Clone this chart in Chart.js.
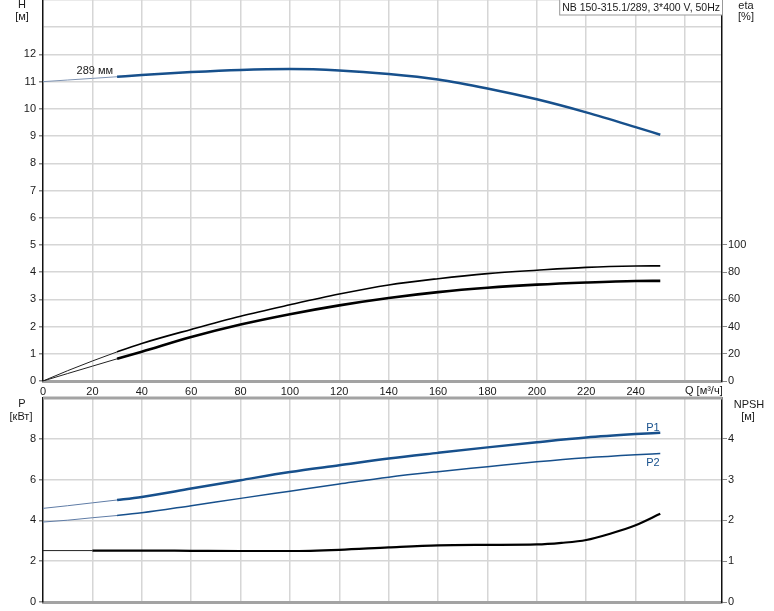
<!DOCTYPE html>
<html>
<head>
<meta charset="utf-8">
<script src="https://cdn.jsdelivr.net/npm/chart.js@4.4.1/dist/chart.umd.min.js"></script>
<style>
  body { margin: 0; background: #fff; }
  canvas { position: absolute; left: 0; }
  #top { top: 0; }
  #bottom { top: 392px; }
</style>
</head>
<body>
<canvas id="top" width="774" height="398"></canvas>
<canvas id="bottom" width="774" height="219"></canvas>
<script>
// ticks
let qTicks = [0, 20, 40, 60, 80, 100, 120, 140, 160, 180, 200, 220, 240, 260];
let hTicks = [0, 1, 2, 3, 4, 5, 6, 7, 8, 9, 10, 11, 12, 13, 14];
let etaTicks = [0, 20, 40, 60, 80, 100];
let pTicks = [0, 2, 4, 6, 8, 10];
let npshTicks = [0, 1, 2, 3, 4];

// curves (Q in m3/h)
let qPts = [0, 10, 20, 30, 40, 60, 80, 100, 120, 140, 160, 180, 200, 220, 240, 250];
let head = [11.0, 11.06, 11.12, 11.18, 11.24, 11.35, 11.43, 11.46, 11.41, 11.28, 11.08, 10.75, 10.35, 9.87, 9.33, 9.05];
let etaHigh = [0, 7.6, 14.7, 21.4, 27.6, 37.9, 47.6, 56.0, 63.9, 70.6, 75.2, 78.9, 81.4, 83.5, 84.5, 84.6];
let etaLow = [0, 5.5, 10.9, 16.3, 21.5, 32.3, 41.5, 49.1, 55.6, 61.0, 65.3, 68.5, 70.8, 72.4, 73.5, 73.6];
let p1 = [4.59, 4.72, 4.86, 5.0, 5.15, 5.56, 5.97, 6.37, 6.70, 7.03, 7.31, 7.58, 7.83, 8.06, 8.23, 8.30];
let p2 = [3.92, 4.01, 4.13, 4.24, 4.37, 4.72, 5.08, 5.43, 5.78, 6.12, 6.39, 6.63, 6.87, 7.07, 7.22, 7.28];
let npshQ = [0, 20, 40, 60, 80, 100, 120, 140, 160, 180, 200, 210, 220, 230, 240, 250];
let npsh = [1.26, 1.26, 1.26, 1.255, 1.25, 1.25, 1.28, 1.34, 1.39, 1.40, 1.41, 1.45, 1.52, 1.68, 1.88, 2.16];

const BLUE = '#17508c';
const FONT = { family: 'Liberation Sans, Arial', size: 11 };
const TXT = '#1a1a1a';
const GRID = '#d6d6d6';

function pts(xs, ys) {
    return xs.map((x, i) => ({ x: x, y: ys[i] }));
}

function curve(data, axis, color, width, thinColor) {
    return {
        data: data,
        yAxisID: axis,
        borderColor: color,
        borderWidth: width,
        pointRadius: 0,
        fill: false,
        cubicInterpolationMode: 'monotone',
        segment: {
            borderWidth: c => c.p1.parsed.x <= 30 ? 1 : width,
            borderColor: c => c.p1.parsed.x <= 30 ? thinColor : color
        }
    };
}

function setTicks(list) {
    return scale => { scale.ticks = list.map(v => ({ value: v })); };
}

function noPad(s) {
    s.paddingTop = 0;
    s.paddingBottom = 0;
}

function xScale(showLabels, height) {
    return {
        type: 'linear', min: 0, max: 275,
        afterBuildTicks: setTicks(qTicks),
        afterFit: s => { s.height = height; s.paddingLeft = 0; s.paddingRight = 0; },
        border: { color: '#a3a3a3', width: 3 },
        grid: { color: c => c.tick && c.tick.value === 0 ? 'transparent' : GRID, lineWidth: 1.5, drawTicks: false },
        ticks: {
            display: showLabels, padding: 4, font: FONT, color: TXT, maxRotation: 0, autoSkip: false,
            callback: v => v === 260 ? '' : v
        }
    };
}

function leftScale(min, max, list, maxLabel) {
    return {
        type: 'linear', position: 'left', min: min, max: max,
        afterBuildTicks: setTicks(list),
        afterFit: s => { s.width = 43; noPad(s); },
        border: { color: '#111', width: 1.5 },
        grid: {
            color: c => c.tick && c.tick.value === 0 ? 'transparent' : GRID,
            lineWidth: 1.5, tickLength: 4,
            tickColor: c => c.tick && c.tick.value <= maxLabel ? '#888' : 'transparent'
        },
        ticks: { padding: 3, font: FONT, color: TXT, autoSkip: false, callback: v => v <= maxLabel ? v : '' }
    };
}

function rightScale(min, max, list) {
    return {
        type: 'linear', position: 'right', min: min, max: max,
        afterBuildTicks: setTicks(list),
        afterFit: s => { s.width = 52; noPad(s); },
        border: { color: '#111', width: 1.5 },
        grid: { drawOnChartArea: false, tickLength: 5, tickColor: '#888' },
        ticks: { padding: 1, font: FONT, color: TXT, autoSkip: false }
    };
}

function text(ctx, s, x, y, align, color) {
    ctx.fillStyle = color || TXT;
    ctx.textAlign = align || 'center';
    ctx.textBaseline = 'middle';
    ctx.fillText(s, x, y);
}

const topLabels = {
    id: 'topLabels',
    afterDraw(chart) {
        const ctx = chart.ctx;
        const xs = chart.scales.x, ys = chart.scales.h;
        ctx.save();
        ctx.font = '11px "Liberation Sans", Arial';
        text(ctx, 'H', 22, 5);
        text(ctx, '[м]', 22, 17);
        text(ctx, 'eta', 746, 6);
        text(ctx, '[%]', 746, 17);
        text(ctx, 'Q [м³/ч]', xs.getPixelForValue(260), 391, 'left');
        text(ctx, '289 мм', xs.getPixelForValue(21), ys.getPixelForValue(11.1) - 8);
        // title box
        ctx.font = '10.5px "Liberation Sans", Arial';
        const t = 'NB 150-315.1/289, 3*400 V, 50Hz';
        const w = ctx.measureText(t).width + 5;
        const right = chart.chartArea.right;
        ctx.fillStyle = '#fff';
        ctx.fillRect(right - w, 0, w, 15);
        ctx.strokeStyle = '#999';
        ctx.lineWidth = 1;
        ctx.strokeRect(right - w + 0.5, -0.5, w, 15.5);
        text(ctx, t, right - 2, 8, 'right');
        ctx.restore();
    }
};

const bottomLabels = {
    id: 'bottomLabels',
    afterDraw(chart) {
        const ctx = chart.ctx;
        const a = chart.chartArea;
        ctx.save();
        ctx.strokeStyle = '#a3a3a3';
        ctx.lineWidth = 3;
        ctx.beginPath();
        ctx.moveTo(a.left, a.top);
        ctx.lineTo(a.right, a.top);
        ctx.stroke();
        ctx.font = '11px "Liberation Sans", Arial';
        text(ctx, 'P', 22, 12);
        text(ctx, '[кВт]', 21, 25);
        text(ctx, 'NPSH', 749, 13);
        text(ctx, '[м]', 748, 25);
        text(ctx, 'P1', 653, 36, 'center', BLUE);
        text(ctx, 'P2', 653, 71, 'center', BLUE);
        ctx.restore();
    }
};

new Chart(document.getElementById('top'), {
    type: 'line',
    data: {
        datasets: [
            curve(pts(qPts, etaHigh), 'eta', '#000', 1.6, '#222'),
            curve(pts(qPts, etaLow), 'eta', '#000', 2.6, '#222'),
            curve(pts(qPts, head), 'h', BLUE, 2.5, '#7f94b3')
        ]
    },
    options: {
        responsive: false, animation: false, devicePixelRatio: 1,
        layout: { padding: 0 },
        plugins: { legend: { display: false }, tooltip: { enabled: false } },
        scales: {
            x: xScale(true, 17),
            h: leftScale(0, 14, hTicks, 12),
            eta: rightScale(0, 280, etaTicks)
        }
    },
    plugins: [topLabels]
});

new Chart(document.getElementById('bottom'), {
    type: 'line',
    data: {
        datasets: [
            curve(pts(qPts, p1), 'p', BLUE, 2.5, '#5f7ca6'),
            curve(pts(qPts, p2), 'p', BLUE, 1.5, '#5f7ca6'),
            curve(pts(npshQ, npsh), 'npsh', '#000', 2.2, '#222')
        ]
    },
    options: {
        responsive: false, animation: false, devicePixelRatio: 1,
        layout: { padding: { top: 6 } },
        plugins: { legend: { display: false }, tooltip: { enabled: false } },
        scales: {
            x: xScale(false, 9),
            p: leftScale(0, 10, pTicks, 8),
            npsh: rightScale(0, 5, npshTicks)
        }
    },
    plugins: [bottomLabels]
});
</script>
</body>
</html>
